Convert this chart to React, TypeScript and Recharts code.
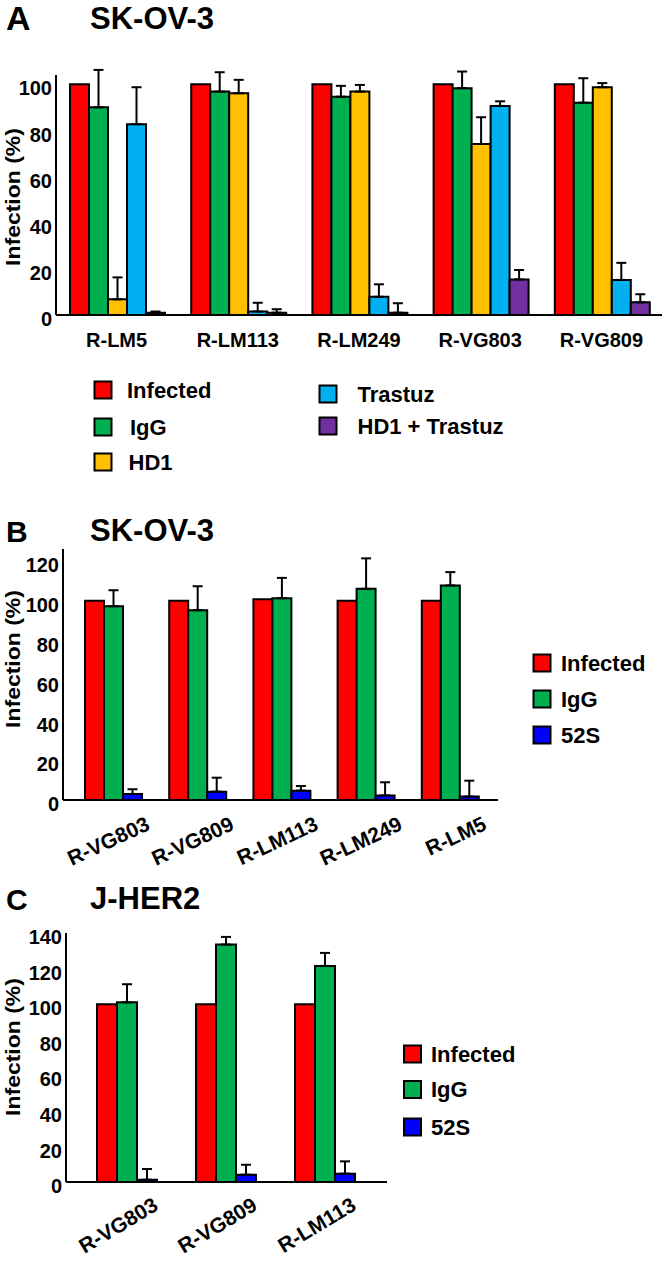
import { BarChart, Bar, XAxis, YAxis, ErrorBar } from "recharts"

const FONT = '"Liberation Sans", Arial, Helvetica, sans-serif'
const W = 666
const H = 1261

// ---- panel A: SK-OV-3 ----
const catsA = ["R-LM5", "R-LM113", "R-LM249", "R-VG803", "R-VG809"]
const infectedA = [100, 100, 100, 100, 100]
const iggA = [90, 96.8, 94.6, 98.3, 92]
const iggErrA = [16.2, 8.4, 4.7, 7.2, 10.6]
const hd1A = [6.8, 96.1, 96.8, 74.1, 98.7]
const hd1ErrA = [9.5, 5.8, 2.9, 11.6, 1.8]
const trastuzA = [82.7, 1.5, 7.9, 90.6, 15.2]
const trastuzErrA = [16, 3.8, 5.4, 2, 7.4]
const comboA = [1, 1, 1, 15.4, 5.5]
const comboErrA = [0.5, 1.5, 4.1, 4.1, 3.5]
const ticksA = [0, 20, 40, 60, 80, 100]

// ---- panel B: SK-OV-3 ----
const catsB = ["R-VG803", "R-VG809", "R-LM113", "R-LM249", "R-LM5"]
const infectedB = [100, 100, 100.8, 100, 100]
const iggB = [97.3, 95.3, 101.3, 106, 107.7]
const iggErrB = [8, 12, 10.2, 15.3, 6.7]
const s52B = [3, 4.2, 4.7, 2.3, 1.7]
const s52ErrB = [2.4, 7, 2.3, 6.6, 8]
const ticksB = [0, 20, 40, 60, 80, 100, 120]

// ---- panel C: J-HER2 ----
const catsC = ["R-VG803", "R-VG809", "R-LM113"]
const infectedC = [100, 100, 100]
const iggC = [101, 133.5, 121.5]
const iggErrC = [10.2, 4.3, 7.3]
const s52C = [1.3, 4.1, 4.7]
const s52ErrC = [6, 5.6, 6.9]
const ticksC = [0, 20, 40, 60, 80, 100, 120, 140]

const RED = "#FF0000"
const GREEN = "#00B050"
const YELLOW = "#FFC000"
const CYAN = "#00B0F0"
const PURPLE = "#7030A0"
const BLUE = "#0000FF"

interface Series {
  key: string
  name: string
  color: string
  values: number[]
  errors?: number[]
}

const seriesA: Series[] = [
  { key: "inf", name: "Infected", color: RED, values: infectedA },
  { key: "igg", name: "IgG", color: GREEN, values: iggA, errors: iggErrA },
  { key: "hd1", name: "HD1", color: YELLOW, values: hd1A, errors: hd1ErrA },
  { key: "tra", name: "Trastuz", color: CYAN, values: trastuzA, errors: trastuzErrA },
  { key: "combo", name: "HD1 + Trastuz", color: PURPLE, values: comboA, errors: comboErrA },
]
const seriesB: Series[] = [
  { key: "inf", name: "Infected", color: RED, values: infectedB },
  { key: "igg", name: "IgG", color: GREEN, values: iggB, errors: iggErrB },
  { key: "s52", name: "52S", color: BLUE, values: s52B, errors: s52ErrB },
]
const seriesC: Series[] = [
  { key: "inf", name: "Infected", color: RED, values: infectedC },
  { key: "igg", name: "IgG", color: GREEN, values: iggC, errors: iggErrC },
  { key: "s52", name: "52S", color: BLUE, values: s52C, errors: s52ErrC },
]

function buildRows(cats: string[], series: Series[]) {
  return cats.map((cat, i) => {
    const row: Record<string, any> = { cat }
    series.forEach((s) => {
      row[s.key] = s.values[i]
      // error bars only go up
      if (s.errors) row[s.key + "Err"] = [0, s.errors[i]]
    })
    return row
  })
}

function YTick({ x, y, payload }: any) {
  return (
    <text
      x={x - 4}
      y={y + 4}
      dy="0.36em"
      textAnchor="end"
      fontSize={20}
      fontWeight="bold"
      fontFamily={FONT}
      fill="#000"
    >
      {payload.value}
    </text>
  )
}

function FlatTick({ x, y, payload }: any) {
  return (
    <text
      x={x}
      y={y + 25}
      dy="0.36em"
      textAnchor="middle"
      fontSize={20}
      fontWeight="bold"
      fontFamily={FONT}
      fill="#000"
    >
      {payload.value}
    </text>
  )
}

function makeRotTick(angle: number, dx: number, dy: number) {
  return function RotTick({ x, y, payload }: any) {
    const tx = x + dx
    const ty = y + dy
    return (
      <text
        x={tx}
        y={ty}
        textAnchor="end"
        transform={`rotate(${-angle}, ${tx}, ${ty})`}
        fontSize={21}
        fontWeight="bold"
        fontFamily={FONT}
        fill="#000"
      >
        {payload.value}
      </text>
    )
  }
}

interface PanelProps {
  top: number
  height: number
  cats: string[]
  series: Series[]
  yMax: number
  ticks: number[]
  plotLeft: number
  plotRight: number
  plotTop: number
  plotBottom: number
  padLeft: number
  padRight: number
  catGap: number
  tick: any
}

function Panel(p: PanelProps) {
  const rows = buildRows(p.cats, p.series)
  return (
    <div style={{ position: "absolute", left: 0, top: p.top }}>
      <BarChart
        width={W}
        height={p.height}
        data={rows}
        margin={{ top: p.plotTop - p.top, right: W - p.plotRight, bottom: 0, left: 0 }}
        barCategoryGap={p.catGap}
        barGap={0}
      >
        <XAxis
          dataKey="cat"
          interval={0}
          height={p.top + p.height - p.plotBottom}
          padding={{ left: p.padLeft, right: p.padRight }}
          axisLine={{ stroke: "#000", strokeWidth: 2 }}
          tickLine={false}
          tickSize={0}
          tickMargin={0}
          tick={p.tick}
        />
        <YAxis
          width={p.plotLeft}
          domain={[0, p.yMax]}
          ticks={p.ticks}
          allowDataOverflow
          axisLine={{ stroke: "#000", strokeWidth: 2 }}
          tickLine={false}
          tickSize={0}
          tickMargin={0}
          tick={<YTick />}
        />
        {p.series.map((s) => (
          <Bar
            key={s.key}
            dataKey={s.key}
            name={s.name}
            fill={s.color}
            stroke="#000"
            strokeWidth={2}
            isAnimationActive={false}
          >
            {s.errors && (
              <ErrorBar
                dataKey={s.key + "Err"}
                direction="y"
                width={5}
                stroke="#000"
                strokeWidth={2}
                isAnimationActive={false}
              />
            )}
          </Bar>
        ))}
      </BarChart>
    </div>
  )
}

function LegendItem({ name, color, sx, cy, tx }: { name: string; color: string; sx: number; cy: number; tx: number }) {
  return (
    <g>
      <rect x={sx} y={cy - 8.5} width={17} height={17} fill={color} stroke="#000" strokeWidth={2} />
      <text x={tx} y={cy} dy="0.36em" fontSize={22} fontWeight="bold" fontFamily={FONT} fill="#000">
        {name}
      </text>
    </g>
  )
}

function YLabel({ x, y }: { x: number; y: number }) {
  return (
    <text
      transform={`translate(${x}, ${y}) scale(0.84, 1) rotate(-90)`}
      dy="0.36em"
      textAnchor="middle"
      fontSize={23}
      fontWeight="bold"
      fontFamily={FONT}
      fill="#000"
    >
      Infection (%)
    </text>
  )
}

function Title({ letter, text, base, letterSize }: { letter: string; text: string; base: number; letterSize: number }) {
  return (
    <g fontFamily={FONT} fontWeight="bold" fill="#000">
      <text x={6} y={base} fontSize={letterSize}>
        {letter}
      </text>
      <text x={90} y={base - 1} fontSize={31}>
        {text}
      </text>
    </g>
  )
}

export default function App() {
  return (
    <div style={{ position: "absolute", left: 0, top: 0, width: W, height: H, background: "#fff" }}>
      <Panel
        top={0}
        height={360}
        cats={catsA}
        series={seriesA}
        yMax={104}
        ticks={ticksA}
        plotLeft={56}
        plotRight={662}
        plotTop={75}
        plotBottom={315}
        padLeft={0}
        padRight={0}
        catGap={14}
        tick={<FlatTick />}
      />
      <Panel
        top={500}
        height={400}
        cats={catsB}
        series={seriesB}
        yMax={126}
        ticks={ticksB}
        plotLeft={63}
        plotRight={498}
        plotTop={549}
        plotBottom={800}
        padLeft={9}
        padRight={5}
        catGap={13}
        tick={makeRotTick(25, 37, 29)}
      />
      <Panel
        top={900}
        height={361}
        cats={catsC}
        series={seriesC}
        yMax={140}
        ticks={ticksC}
        plotLeft={66}
        plotRight={387}
        plotTop={933}
        plotBottom={1182}
        padLeft={11}
        padRight={13}
        catGap={20}
        tick={makeRotTick(31, 33, 27)}
      />
      <svg
        width={W}
        height={H}
        style={{ position: "absolute", left: 0, top: 0, pointerEvents: "none" }}
      >
        <Title letter="A" text="SK-OV-3" base={30} letterSize={34} />
        <Title letter="B" text="SK-OV-3" base={542} letterSize={30} />
        <Title letter="C" text="J-HER2" base={910} letterSize={30} />

        <YLabel x={13} y={197} />
        <YLabel x={13} y={659} />
        <YLabel x={13} y={1047} />

        <LegendItem name="Infected" color={RED} sx={94.5} cy={390} tx={127} />
        <LegendItem name="IgG" color={GREEN} sx={94.5} cy={427} tx={130} />
        <LegendItem name="HD1" color={YELLOW} sx={94.5} cy={462} tx={128.5} />
        <LegendItem name="Trastuz" color={CYAN} sx={319.5} cy={394} tx={357.5} />
        <LegendItem name="HD1 + Trastuz" color={PURPLE} sx={319.5} cy={426} tx={357.5} />

        <LegendItem name="Infected" color={RED} sx={533.5} cy={663} tx={561} />
        <LegendItem name="IgG" color={GREEN} sx={533.5} cy={699} tx={561} />
        <LegendItem name="52S" color={BLUE} sx={533.5} cy={735} tx={561} />

        <LegendItem name="Infected" color={RED} sx={404} cy={1054} tx={431} />
        <LegendItem name="IgG" color={GREEN} sx={404} cy={1089.5} tx={431} />
        <LegendItem name="52S" color={BLUE} sx={404} cy={1127} tx={431} />
      </svg>
    </div>
  )
}
